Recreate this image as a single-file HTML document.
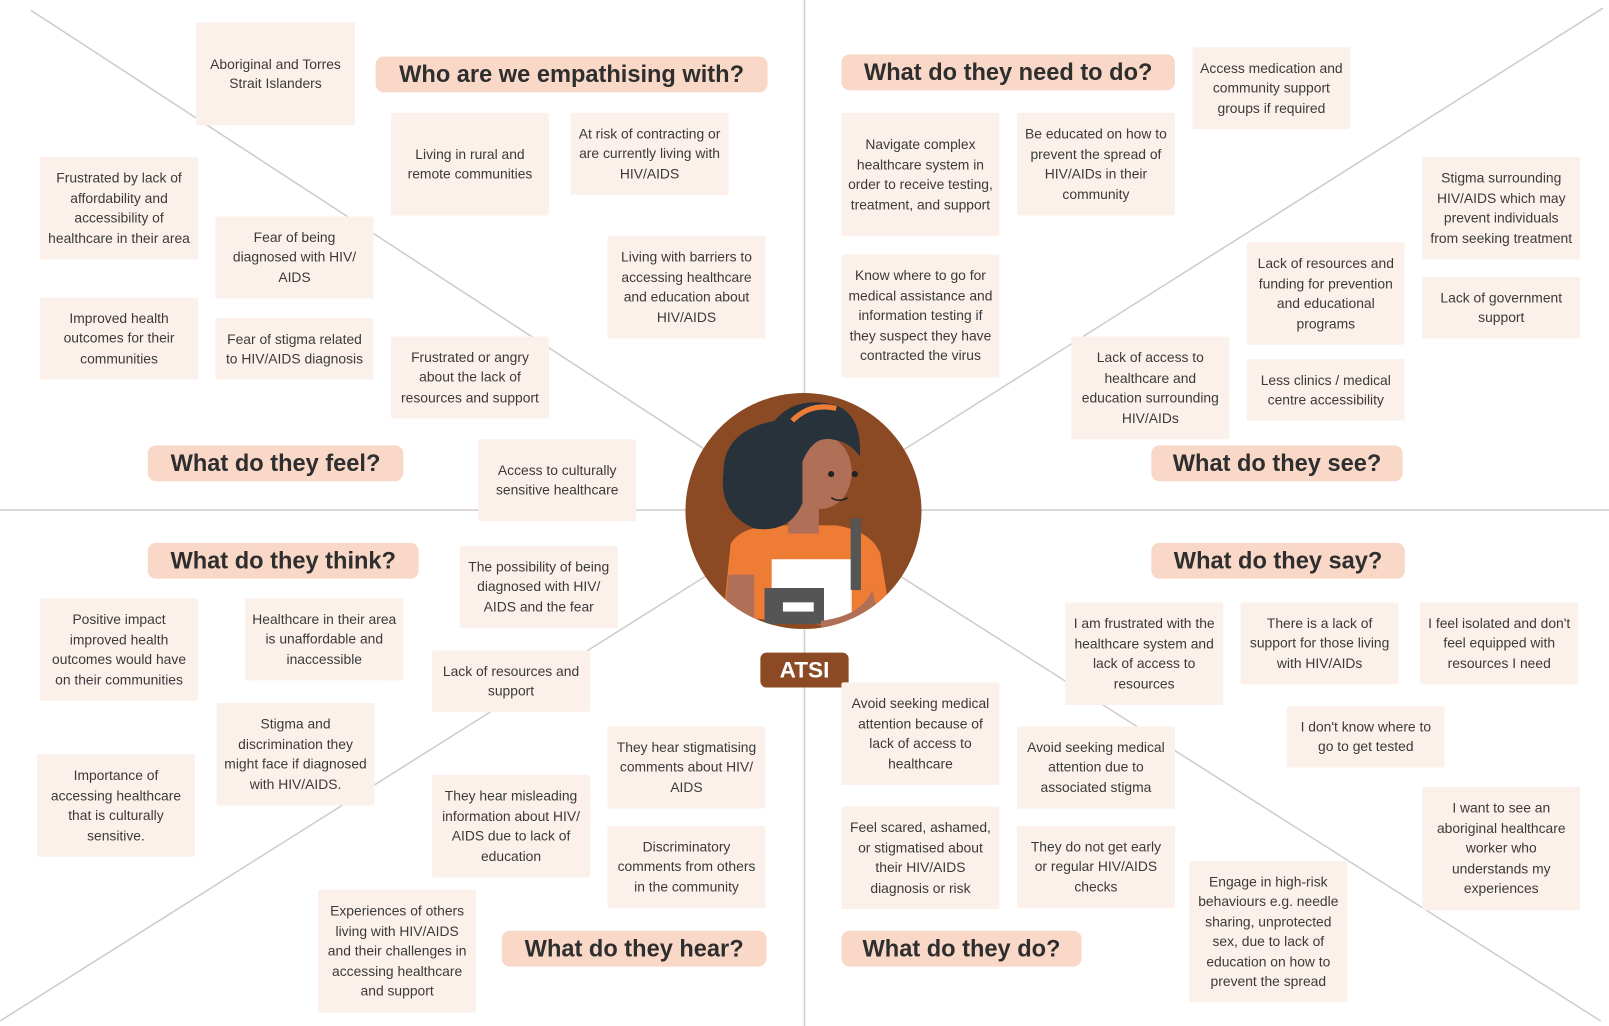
<!DOCTYPE html>
<html><head><meta charset="utf-8"><style>
body{margin:0;width:1609px;height:1026px;background:#fff;position:relative;overflow:hidden;font-family:"Liberation Sans",sans-serif;}
#w{position:absolute;left:0;top:0;width:1568px;height:1000px;transform:scale(1.02615);transform-origin:0 0}
.c{position:absolute;background:#fcf0eb;color:#3a3a3a;font-size:13.5px;line-height:19.5px;text-align:center;display:flex;align-items:center;justify-content:center;padding:0 6px;box-sizing:border-box;border-radius:2px}
.h{position:absolute;background:#f9d8c8;color:#2e2e2e;font-weight:bold;font-size:23px;border-radius:8px;display:flex;align-items:center;justify-content:center;white-space:nowrap}
svg.bg{position:absolute;left:0;top:0}
</style></head><body><div id="w">
<svg class="bg" width="1568" height="1000">
<g stroke="#cfcccb" stroke-width="1.5">
<line x1="0" y1="497" x2="1568" y2="497"/>
<line x1="784" y1="0" x2="784" y2="1000"/>
<line x1="30" y1="10" x2="690" y2="440"/>
<line x1="1562" y1="8" x2="878" y2="440"/>
<line x1="0" y1="995" x2="690" y2="560"/>
<line x1="878" y1="562" x2="1560" y2="995"/>
</g>
<defs><clipPath id="cc"><circle cx="783" cy="498" r="115"/></clipPath></defs>
<circle cx="783" cy="498" r="115" fill="#8b4a24"/>
<g clip-path="url(#cc)">
<path d="M705 600 L712 530 Q720 515 750 512 L815 512 Q850 518 858 540 L870 615 Z" fill="#ef7c35"/>
<path d="M705 610 L710 560 L735 560 L735 620 Z" fill="#b07058"/>
<rect x="768" y="480" width="30" height="40" fill="#b07058"/>
<ellipse cx="800" cy="460" rx="30" ry="36" fill="#b07058"/>
<path d="M755 410 Q775 385 815 395 Q840 405 838 445 Q828 430 810 428 Q792 425 782 450 L782 490 Q770 520 735 515 Q700 500 705 460 Q705 420 755 410 Z" fill="#27323a"/>
<path d="M772 410 Q790 392 815 398" stroke="#ef7c35" stroke-width="5" fill="none"/>
<rect x="752" y="545" width="78" height="60" fill="#fff"/>
<rect x="745" y="573" width="58" height="35" fill="#555"/>
<rect x="763" y="587" width="30" height="9" fill="#fff"/>
<rect x="829" y="505" width="10" height="70" fill="#555"/>
<path d="M800 605 Q840 600 850 575 L860 615 L800 620 Z" fill="#b07058"/>
<circle cx="810" cy="462" r="3" fill="#222"/><circle cx="833" cy="462" r="3" fill="#222"/>
<path d="M810 485 Q818 490 826 485" stroke="#222" fill="none" stroke-width="1.5"/>
</g>
</svg>
<div class="h" style="left:741px;top:636px;width:86px;height:34px;background:#8b4a24;color:#fff;font-size:22px;border-radius:6px">ATSI</div>

<div class="h" style="left:366px;top:55px;width:382px;height:35px">Who are we empathising with?</div>
<div class="h" style="left:820px;top:53px;width:325px;height:35px">What do they need to do?</div>
<div class="h" style="left:144px;top:434px;width:249px;height:35px">What do they feel?</div>
<div class="h" style="left:1122px;top:434px;width:245px;height:35px">What do they see?</div>
<div class="h" style="left:144px;top:529px;width:264px;height:35px">What do they think?</div>
<div class="h" style="left:1122px;top:529px;width:247px;height:35px">What do they say?</div>
<div class="h" style="left:489px;top:907px;width:258px;height:35px">What do they hear?</div>
<div class="h" style="left:820px;top:907px;width:234px;height:35px">What do they do?</div>

<div class="c" style="left:191px;top:22px;width:155px;height:100px">Aboriginal and Torres Strait Islanders</div>
<div class="c" style="left:381px;top:110px;width:154px;height:100px">Living in rural and remote communities</div>
<div class="c" style="left:556px;top:110px;width:154px;height:80px">At risk of contracting or are currently living with HIV/AIDS</div>
<div class="c" style="left:39px;top:153px;width:154px;height:100px">Frustrated by lack of affordability and accessibility of healthcare in their area</div>
<div class="c" style="left:210px;top:211px;width:154px;height:80px">Fear of being diagnosed with HIV/ AIDS</div>
<div class="c" style="left:592px;top:230px;width:154px;height:100px">Living with barriers to accessing healthcare and education about HIV/AIDS</div>
<div class="c" style="left:39px;top:290px;width:154px;height:80px">Improved health outcomes for their communities</div>
<div class="c" style="left:210px;top:310px;width:154px;height:60px">Fear of stigma related to HIV/AIDS diagnosis</div>
<div class="c" style="left:381px;top:328px;width:154px;height:80px">Frustrated or angry about the lack of resources and support</div>
<div class="c" style="left:466px;top:428px;width:154px;height:80px">Access to culturally sensitive healthcare</div>
<div class="c" style="left:448px;top:532px;width:154px;height:80px">The possibility of being diagnosed with HIV/ AIDS and the fear</div>
<div class="c" style="left:39px;top:583px;width:154px;height:100px">Positive impact improved health outcomes would have on their communities</div>
<div class="c" style="left:239px;top:583px;width:154px;height:80px">Healthcare in their area is unaffordable and inaccessible</div>
<div class="c" style="left:421px;top:634px;width:154px;height:60px">Lack of resources and support</div>
<div class="c" style="left:211px;top:685px;width:154px;height:100px">Stigma and discrimination they might face if diagnosed with HIV/AIDS.</div>
<div class="c" style="left:36px;top:735px;width:154px;height:100px">Importance of accessing healthcare that is culturally sensitive.</div>
<div class="c" style="left:592px;top:708px;width:154px;height:80px">They hear stigmatising comments about HIV/ AIDS</div>
<div class="c" style="left:421px;top:755px;width:154px;height:100px">They hear misleading information about HIV/ AIDS due to lack of education</div>
<div class="c" style="left:592px;top:805px;width:154px;height:80px">Discriminatory comments from others in the community</div>
<div class="c" style="left:310px;top:867px;width:154px;height:120px">Experiences of others living with HIV/AIDS and their challenges in accessing healthcare and support</div>

<div class="c" style="left:1162px;top:46px;width:154px;height:80px">Access medication and community support groups if required</div>
<div class="c" style="left:820px;top:110px;width:154px;height:120px">Navigate complex healthcare system in order to receive testing, treatment, and support</div>
<div class="c" style="left:991px;top:110px;width:154px;height:100px">Be educated on how to prevent the spread of HIV/AIDs in their community</div>
<div class="c" style="left:1386px;top:153px;width:154px;height:100px">Stigma surrounding HIV/AIDS which may prevent individuals from seeking treatment</div>
<div class="c" style="left:1215px;top:236px;width:154px;height:100px">Lack of resources and funding for prevention and educational programs</div>
<div class="c" style="left:820px;top:248px;width:154px;height:120px">Know where to go for medical assistance and information testing if they suspect they have contracted the virus</div>
<div class="c" style="left:1386px;top:270px;width:154px;height:60px">Lack of government support</div>
<div class="c" style="left:1044px;top:328px;width:154px;height:100px">Lack of access to healthcare and education surrounding HIV/AIDs</div>
<div class="c" style="left:1215px;top:350px;width:154px;height:60px">Less clinics / medical centre accessibility</div>
<div class="c" style="left:1038px;top:587px;width:154px;height:100px">I am frustrated with the healthcare system and lack of access to resources</div>
<div class="c" style="left:1209px;top:587px;width:154px;height:80px">There is a lack of support for those living with HIV/AIDs</div>
<div class="c" style="left:1384px;top:587px;width:154px;height:80px">I feel isolated and don't feel equipped with resources I need</div>
<div class="c" style="left:820px;top:665px;width:154px;height:100px">Avoid seeking medical attention because of lack of access to healthcare</div>
<div class="c" style="left:991px;top:708px;width:154px;height:80px">Avoid seeking medical attention due to associated stigma</div>
<div class="c" style="left:1254px;top:688px;width:154px;height:60px">I don't know where to go to get tested</div>
<div class="c" style="left:1386px;top:767px;width:154px;height:120px">I want to see an aboriginal healthcare worker who understands my experiences</div>
<div class="c" style="left:820px;top:786px;width:154px;height:100px">Feel scared, ashamed, or stigmatised about their HIV/AIDS diagnosis or risk</div>
<div class="c" style="left:991px;top:805px;width:154px;height:80px">They do not get early or regular HIV/AIDS checks</div>
<div class="c" style="left:1159px;top:839px;width:154px;height:138px">Engage in high-risk behaviours e.g. needle sharing, unprotected sex, due to lack of education on how to prevent the spread</div>
</div></body></html>
